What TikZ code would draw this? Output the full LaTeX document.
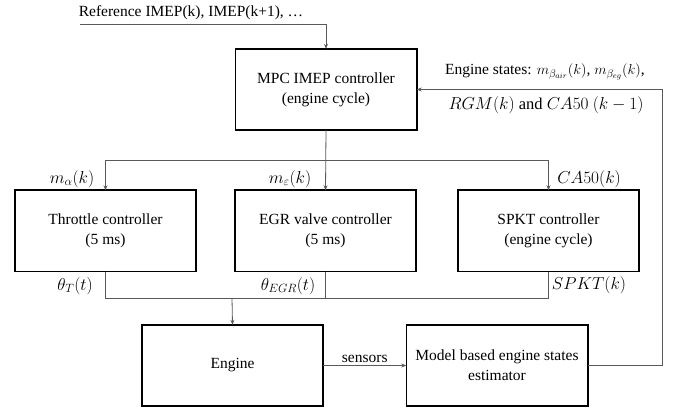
\documentclass[tikz,border=0pt]{standalone}
\usepackage{fontspec}
\setmainfont{Liberation Serif}
\newfontfamily\boxfont{Liberation Serif}
\usepackage{amsmath}
\usetikzlibrary{arrows.meta, calc}
\usetikzlibrary{positioning}

\begin{document}
\begin{tikzpicture}
  [
    x=1pt, y=-1pt,
    >={Stealth[length=5pt,width=4pt]},
    every node/.style = {font=\boxfont\fontsize{15.5}{20}\selectfont},
    block/.style = {rectangle, minimum width=181pt, minimum height=81pt, align=center, inner sep=2pt},
    boxline/.style = {draw=black, line width=1.6pt},
    wire/.style  = {draw=black!65, line width=0.8pt},
    sig/.style   = {inner sep=1pt, font=\fontsize{16.5}{20}\selectfont},
  ]
  \useasboundingbox (0,0) rectangle (678,411);

  % blocks
  \node (mpc) at (326,89.5) [block] {MPC IMEP controller\\(engine cycle)};
  \node (throttle) at (105.5,231) [block] {Throttle controller\\(5 ms)};
  \node (egr) at (325.5,231) [block] {EGR valve controller\\(5 ms)};
  \node (spkt) at (548.5,231) [block] {SPKT controller\\(engine cycle)};
  \node (engine) at (232.5,365.5) [block] {Engine};
  \node (est) at (497,365.5) [block] {Model based engine states\\estimator};
  \foreach \b in {mpc,throttle,egr,spkt,engine,est}
    \draw[boxline] (\b.north west) rectangle (\b.south east);

  % junction points
  \coordinate (refin) at (80,24);
  \coordinate (split) at (326,160);
  \coordinate (merge) at (232,298);
  \coordinate (fbk) at (662,89.5);

  % reference input
  \draw[wire,->] (refin) -| (mpc.north);
  \node (reftext) at (191,13) [inner sep=1pt] {Reference IMEP(k), IMEP(k+1), \dots};

  % setpoints to the low level controllers
  \draw[wire,->] (mpc.south) -- (egr.north);
  \draw[wire,->] (split) -| (throttle.north);
  \draw[wire,->] (split) -| (spkt.north);
  \node (ma) at (72,179) [sig] {$m_{\alpha}(k)$};
  \node (me) at (290,179) [sig] {$m_{\varepsilon}(k)$};
  \node (ca) at (589,179) [sig] {$CA50(k)$};

  % actuator signals to the engine
  \draw[wire] (throttle.south) |- (spkt.south |- merge) -- (spkt.south);
  \draw[wire] (egr.south) -- (egr.south |- merge);
  \draw[wire,->] (merge) -- (engine.north);
  \node (thT) at (75,286) [sig] {$\theta_{T}(t)$};
  \node (thE) at (288,286) [sig] {$\theta_{EGR}(t)$};
  \node (sp) at (589,285) [sig] {$SPKT(k)$};

  % measurement and state feedback
  \draw[wire,->] (engine.east) -- node (sens) [above, inner sep=2pt] {sensors} (est.west);
  \draw[wire,->] (est.east) -| (fbk) -- (mpc.east);
  \node (states1) at (545,72) [inner sep=1pt] {Engine states: $m_{\beta_{air}}(k)$, $m_{\beta_{eg}}(k)$,};
  \node (states2) at (546,105) [sig] {$RGM(k)$ and $CA50\ (k-1)$};

\end{tikzpicture}
\end{document}
